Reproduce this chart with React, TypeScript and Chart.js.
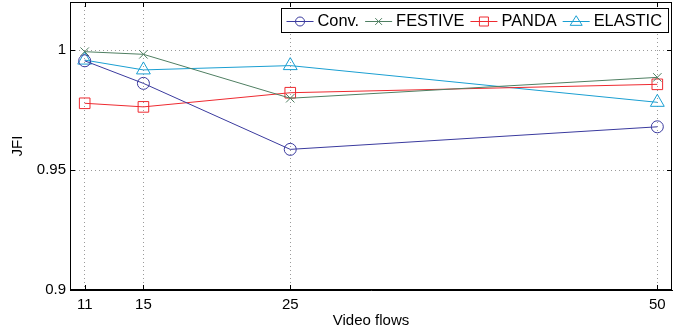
import React, { useEffect, useRef } from "react";
import { Chart, registerables } from "chart.js";
Chart.register(...registerables);

const videoFlows = [11, 15, 25, 50];
const convValues = [0.9955, 0.9861, 0.9586, 0.968];
const festiveValues = [0.9993, 0.9982, 0.9799, 0.9886];
const pandaValues = [0.9778, 0.9763, 0.9822, 0.9857];
const elasticValues = [0.9958, 0.9917, 0.9935, 0.9782];
const yTickValues = [0.9, 0.95, 1];
const seriesNames = ["Conv.", "FESTIVE", "PANDA", "ELASTIC"];
const seriesColors = ["#3a3a9e", "#4f7f62", "#ee2a30", "#1a9fd2"];
const seriesMarkers = ["circle", "crossRot", "rect", "triangle"];
const markerRadii = [6, 6, 7.5, 8];

const FONT = "'Liberation Sans', Arial, Helvetica, sans-serif";

function drawMarker(ctx: CanvasRenderingContext2D, kind: string, x: number, y: number, r: number) {
  ctx.beginPath();
  if (kind === "circle") {
    ctx.arc(x, y, r, 0, Math.PI * 2);
  } else if (kind === "crossRot") {
    const d = r * 0.75;
    ctx.moveTo(x - d, y - d);
    ctx.lineTo(x + d, y + d);
    ctx.moveTo(x - d, y + d);
    ctx.lineTo(x + d, y - d);
  } else if (kind === "rect") {
    ctx.rect(x - r, y - r, 2 * r, 2 * r);
  } else if (kind === "triangle") {
    const h = r * 1.6;
    ctx.moveTo(x, y - h * 0.6);
    ctx.lineTo(x + r, y + h * 0.4);
    ctx.lineTo(x - r, y + h * 0.4);
    ctx.closePath();
  }
  ctx.stroke();
}

const framePlugin = {
  id: "frame",
  afterDraw(chart: any) {
    const { ctx, chartArea, scales } = chart;
    const { left, right, top, bottom } = chartArea;
    ctx.save();
    ctx.strokeStyle = "#000";
    ctx.lineWidth = 1;
    ctx.setLineDash([]);
    ctx.strokeRect(Math.round(left) + 0.5, Math.round(top) + 0.5, Math.round(right - left) - 1, Math.round(bottom - top) - 1);
    const tl = 5;
    ctx.beginPath();
    for (const v of videoFlows) {
      const px = Math.round(scales.x.getPixelForValue(v)) + 0.5;
      ctx.moveTo(px, bottom);
      ctx.lineTo(px, bottom - tl);
      ctx.moveTo(px, top);
      ctx.lineTo(px, top + tl);
    }
    for (const v of yTickValues) {
      const py = Math.round(scales.y.getPixelForValue(v)) + 0.5;
      ctx.moveTo(left, py);
      ctx.lineTo(left + tl, py);
      ctx.moveTo(right, py);
      ctx.lineTo(right - tl, py);
    }
    ctx.stroke();

    // legend
    ctx.font = `16.4px ${FONT}`;
    const lineLen = 27;
    const widths = seriesNames.map((n) => ctx.measureText(n).width);
    let total = 6;
    widths.forEach((w) => {
      total += lineLen + 4 + w + 6;
    });
    const boxRight = Math.round(right) - 4;
    const boxLeft = boxRight - total;
    const boxTop = Math.round(top) + 6;
    const boxH = 24;
    ctx.fillStyle = "#fff";
    ctx.fillRect(boxLeft, boxTop, total, boxH);
    ctx.strokeStyle = "#000";
    ctx.strokeRect(Math.round(boxLeft) + 0.5, boxTop + 0.5, Math.round(total), boxH);
    const cy = boxTop + boxH / 2 + 0.5;
    let x = boxLeft + 6;
    ctx.textBaseline = "middle";
    ctx.textAlign = "left";
    seriesNames.forEach((n, i) => {
      ctx.strokeStyle = seriesColors[i];
      ctx.lineWidth = 1;
      ctx.beginPath();
      ctx.moveTo(x, Math.round(cy) + 0.5);
      ctx.lineTo(x + lineLen, Math.round(cy) + 0.5);
      ctx.stroke();
      drawMarker(ctx, seriesMarkers[i], x + lineLen / 2, Math.round(cy) + 0.5, i === 3 ? 6 : 4.5);
      ctx.fillStyle = "#000";
      ctx.fillText(n, x + lineLen + 4, cy + 1);
      x += lineLen + 4 + widths[i] + 6;
    });
    ctx.restore();
  },
};

export default function App() {
  const ref = useRef<HTMLCanvasElement>(null);
  useEffect(() => {
    document.body.style.margin = "0";
    const allSeries = [convValues, festiveValues, pandaValues, elasticValues];
    const chart = new Chart(ref.current!, {
      type: "line",
      data: {
        datasets: allSeries.map((vals, i) => ({
          label: seriesNames[i],
          data: vals.map((v, j) => ({ x: videoFlows[j], y: v })),
          borderColor: seriesColors[i],
          backgroundColor: "transparent",
          borderWidth: 1,
          pointStyle: seriesMarkers[i] as any,
          pointRadius: markerRadii[i],
          pointBorderColor: seriesColors[i],
          pointBackgroundColor: "transparent",
          pointBorderWidth: 1,
          tension: 0,
          fill: false,
        })),
      },
      options: {
        animation: false,
        responsive: false,
        devicePixelRatio: 1,
        layout: { autoPadding: false, padding: { top: 2, right: 14, left: 0, bottom: 0 } },
        plugins: { legend: { display: false }, tooltip: { enabled: false } },
        scales: {
          x: {
            type: "linear",
            min: 10,
            max: 51,
            afterBuildTicks: (s: any) => {
              s.ticks = videoFlows.map((v) => ({ value: v }));
            },
            afterFit: (s: any) => {
              s.height = 40;
              s.paddingLeft = 0;
              s.paddingRight = 0;
            },
            ticks: {
              autoSkip: false,
              maxRotation: 0,
              padding: 6,
              color: "#000",
              font: { family: FONT, size: 15 },
              callback: (v: any) => String(v),
            },
            grid: { color: "#9a9a9a", lineWidth: 1, drawTicks: false },
            border: { display: true, color: "#000", width: 1, dash: [1, 3] },
            title: {
              display: true,
              text: "Video flows",
              color: "#000",
              font: { family: FONT, size: 15 },
              padding: { top: 0, bottom: 0 },
            },
          },
          y: {
            type: "linear",
            min: 0.9,
            max: 1.02,
            afterBuildTicks: (s: any) => {
              s.ticks = yTickValues.map((v) => ({ value: v }));
            },
            afterFit: (s: any) => {
              s.width = 70;
              s.paddingTop = 0;
              s.paddingBottom = 0;
            },
            ticks: {
              padding: 4,
              color: "#000",
              font: { family: FONT, size: 15 },
              callback: (v: any) => String(Math.round(v * 100) / 100),
            },
            grid: { color: "#9a9a9a", lineWidth: 1, drawTicks: false },
            border: { display: true, color: "#000", width: 1, dash: [1, 3] },
            title: {
              display: true,
              text: "JFI",
              color: "#000",
              font: { family: FONT, size: 15 },
              padding: { top: 9, bottom: 0 },
            },
          },
        },
      },
      plugins: [framePlugin],
    });
    return () => chart.destroy();
  }, []);
  return <canvas ref={ref} width={686} height={330} style={{ display: "block" }} />;
}
